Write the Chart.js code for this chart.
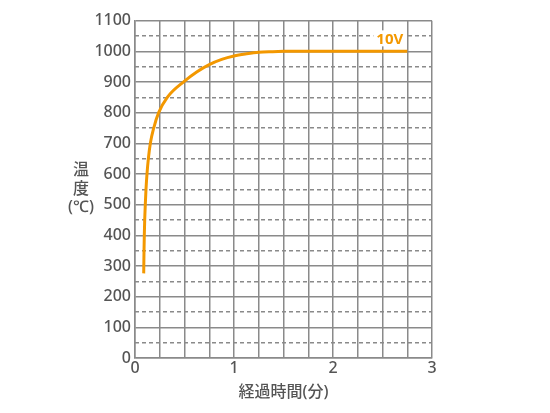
<!DOCTYPE html>
<html>
<head>
<meta charset="utf-8">
<script src="https://cdn.jsdelivr.net/npm/chart.js@4.4.0/dist/chart.umd.min.js"></script>
<style>
html,body{margin:0;padding:0;background:#fff;}
#wrap{width:550px;height:413px;}
</style>
</head>
<body>
<div id="wrap"><canvas id="c" width="550" height="413"></canvas></div>
<script>
const times = [0.088, 0.091, 0.094, 0.098, 0.104, 0.111, 0.121, 0.135, 0.155, 0.189, 0.239, 0.326, 0.5, 0.623, 0.75, 0.876, 1.0, 1.128, 1.25, 1.38, 1.5, 2.0, 2.75];
const temps = [276, 350, 400, 450, 500, 550, 600, 650, 700, 750, 800, 850, 903, 933, 957, 974, 985, 992, 997, 999, 1000, 1000, 1000];
const seriesLabel = '10V';
const xTitle = '経過時間(分)';
const yTitleLines = ['温', '度', '(℃)'];
const xTickLabels = ['0', '1', '2', '3'];
const yDashTicks = [50, 150, 250, 350, 450, 550, 650, 750, 850, 950, 1050];

const FONT = "'Noto Sans', 'Noto Sans CJK JP', sans-serif";
const GRID = '#8a8a8a';
const TXT = '#555555';
const ORANGE = '#f39800';

const titlesPlugin = {
  id: 'titles',
  afterDraw(chart) {
    const ctx = chart.ctx;
    const a = chart.chartArea;
    ctx.save();
    ctx.fillStyle = TXT;
    ctx.textAlign = 'center';
    ctx.textBaseline = 'middle';
    ctx.font = "500 16px " + FONT;
    ctx.fillText(xTitle, (a.left + a.right) / 2, a.bottom + 34);
    const cy = (a.top + a.bottom) / 2;
    ctx.font = "500 16px " + FONT;
    yTitleLines.forEach((t, i) => {
      ctx.fillText(t, a.left - 54, cy + (i - 1) * 18.5);
    });
    // series label
    const meta = chart.getDatasetMeta(0);
    const last = meta.data[meta.data.length - 1];
    ctx.font = "bold 15px " + FONT;
    const w = ctx.measureText(seriesLabel).width;
    const rx = last.x - 4;
    const ry = last.y - 13;
    ctx.fillStyle = '#ffffff';
    ctx.fillRect(rx - w - 3, ry - 8, w + 6, 16);
    ctx.fillStyle = ORANGE;
    ctx.textAlign = 'right';
    ctx.fillText(seriesLabel, rx, ry + 1);
    ctx.restore();
  }
};

new Chart(document.getElementById('c'), {
  type: 'line',
  data: {
    datasets: [{
      label: seriesLabel,
      data: times.map((t, i) => ({x: t, y: temps[i]})),
      borderColor: ORANGE,
      borderWidth: 3,
      pointRadius: 0,
      fill: false,
      cubicInterpolationMode: 'monotone'
    }]
  },
  options: {
    responsive: false,
    animation: false,
    layout: {padding: {left: 0, top: 20.7, right: 118, bottom: 0}},
    plugins: {legend: {display: false}, tooltip: {enabled: false}},
    scales: {
      x: {
        type: 'linear', min: 0, max: 3,
        ticks: {
          stepSize: 0.25,
          color: TXT,
          font: {family: FONT, size: 16, weight: '500'},
          padding: 1,
          maxRotation: 0,
          autoSkip: false,
          callback: v => Number.isInteger(v) ? xTickLabels[v] : ''
        },
        grid: {color: GRID, lineWidth: 1.5, drawTicks: false},
        border: {color: GRID, width: 1.5},
        afterFit: s => { s.height = 55; }
      },
      y: {
        type: 'linear', min: 0, max: 1100, position: 'left',
        ticks: {
          stepSize: 100,
          color: TXT,
          font: {family: FONT, size: 16, weight: '500'},
          padding: 4,
          callback: v => String(v)
        },
        grid: {color: GRID, lineWidth: 1.5, drawTicks: false},
        border: {color: GRID, width: 1.5},
        afterFit: s => { s.width = 135; }
      },
      y2: {
        type: 'linear', min: 0, max: 1100, position: 'left',
        afterBuildTicks: s => { s.ticks = yDashTicks.map(v => ({value: v})); },
        ticks: {display: false},
        grid: {color: GRID, lineWidth: 1.5, drawTicks: false},
        border: {display: false, dash: [4, 3]},
        afterFit: s => { s.width = 0; }
      }
    }
  },
  plugins: [titlesPlugin]
});
</script>
</body>
</html>
